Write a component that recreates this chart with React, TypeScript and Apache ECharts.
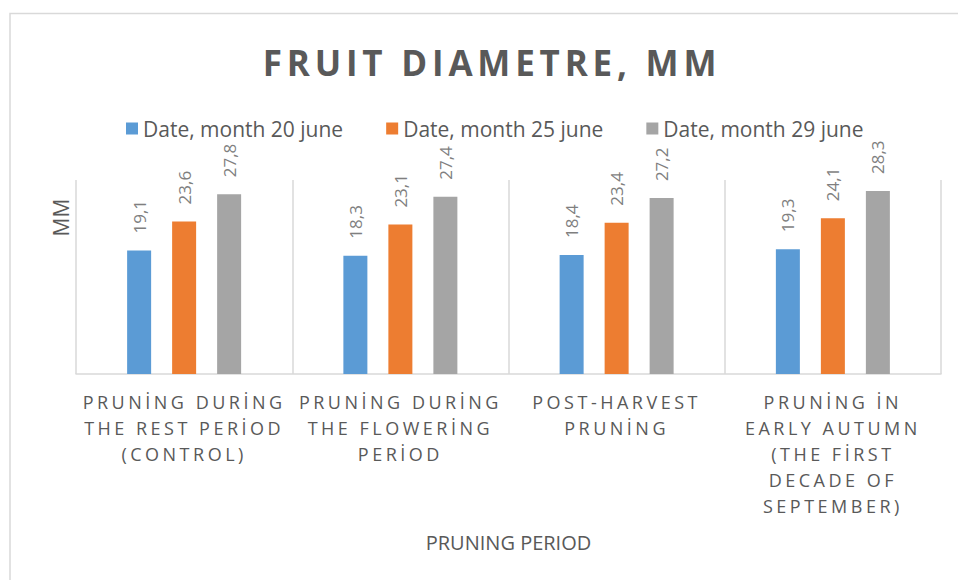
import React, { useEffect, useRef } from "react";
import * as echarts from "echarts";

const titleText = "FRUIT DIAMETRE, MM";
const categories = [
  "PRUNİNG DURİNG\nTHE REST PERİOD\n(CONTROL)",
  "PRUNİNG DURİNG\nTHE FLOWERİNG\nPERİOD",
  "POST-HARVEST\nPRUNİNG",
  "PRUNİNG İN\nEARLY AUTUMN\n(THE FİRST\nDECADE OF\nSEPTEMBER)",
];
const seriesNames = ["Date, month 20 june", "Date, month 25 june", "Date, month 29 june"];
const june20 = [19.1, 18.3, 18.4, 19.3];
const june25 = [23.6, 23.1, 23.4, 24.1];
const june29 = [27.8, 27.4, 27.2, 28.3];
const colors = ["#5b9bd5", "#ed7d31", "#a5a5a5"];
const xAxisName = "PRUNING PERIOD";
const yAxisName = "MM";

export default function App() {
  const ref = useRef<HTMLDivElement>(null);
  useEffect(() => {
    if (!ref.current) return;
    const chart = echarts.init(ref.current, null, { renderer: "svg" });
    const values = [june20, june25, june29];
    chart.setOption({
      animation: false,
      textStyle: { fontFamily: "Open Sans" },
      title: {
        text: titleText,
        left: 487,
        textAlign: "center",
        top: 40,
        textStyle: {
          fontFamily: "Open Sans, ttl",
          fontWeight: "bold",
          fontSize: 35,
          color: "#595959",
        },
      },
      legend: {
        left: 121,
        top: 113,
        itemWidth: 12,
        itemHeight: 12,
        itemGap: 43,
        icon: "rect",
        textStyle: { fontFamily: "Open Sans", fontSize: 21, color: "#595959" },
        data: seriesNames,
      },
      graphic: [
        {
          type: "rect",
          silent: true,
          z: -10,
          shape: { x: 10, y: 13.5, width: 1200, height: 1200 },
          style: { fill: "none", stroke: "#d9d9d9", lineWidth: 1.5 },
        },
      ],
      grid: { left: 76, right: 17, top: 180, bottom: 206, containLabel: false },
      xAxis: {
        type: "category",
        data: categories,
        axisTick: { show: false },
        axisLine: { lineStyle: { color: "#d9d9d9", width: 1.5 } },
        splitLine: { show: true, lineStyle: { color: "#d9d9d9", width: 1.5 } },
        axisLabel: {
          interval: 0,
          color: "#595959",
          fontFamily: "Open Sans, axl",
          fontSize: 18,
          lineHeight: 26,
          margin: 15,
        },
        name: xAxisName,
        nameLocation: "middle",
        nameGap: 158,
        nameTextStyle: { fontFamily: "Open Sans", fontSize: 20, color: "#595959" },
      },
      yAxis: {
        type: "value",
        min: 0,
        max: 30,
        axisLabel: { show: false },
        axisLine: { show: false },
        axisTick: { show: false },
        splitLine: { show: false },
        name: yAxisName,
        nameLocation: "middle",
        nameGap: 5,
        nameTextStyle: {
          fontFamily: "Open Sans",
          fontSize: 21,
          color: "#595959",
          padding: [0, 0, 0, 119],
        },
      },
      series: seriesNames.map((name, i) => ({
        name,
        type: "bar",
        data: values[i],
        barWidth: 24,
        barGap: "87.5%",
        itemStyle: { color: colors[i] },
        label: {
          show: true,
          position: "top",
          rotate: 90,
          align: "left",
          verticalAlign: "middle",
          distance: 17,
          fontFamily: "Open Sans",
          fontSize: 17,
          color: "#7f7f7f",
          formatter: (p: any) => Number(p.value).toFixed(1).replace(".", ","),
        },
      })),
    });
    return () => chart.dispose();
  }, []);
  return (
    <>
      <style>{`body{margin:0} text[style*="axl"]{letter-spacing:3.5px} text[style*="ttl"]{letter-spacing:4.8px}`}</style>
      <div ref={ref} style={{ width: 958, height: 580 }} />
    </>
  );
}
